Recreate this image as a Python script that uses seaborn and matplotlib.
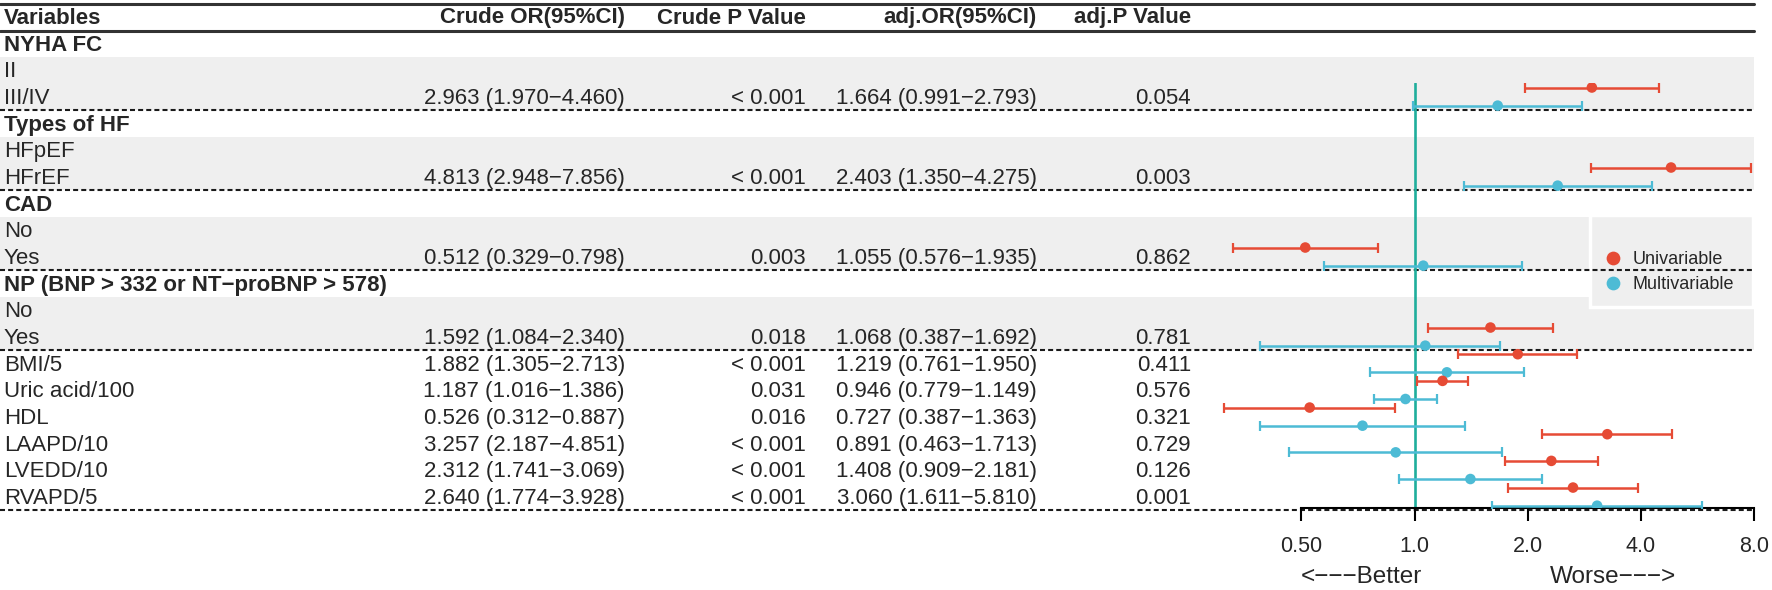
import numpy as np
import pandas as pd
import matplotlib
matplotlib.use("Agg")
import matplotlib.pyplot as plt
from matplotlib.patches import Rectangle
from matplotlib.ticker import NullLocator
import seaborn as sns

nan = np.nan

# table rows, top to bottom
variables = ["NYHA FC", "II", "III/IV",
             "Types of HF", "HFpEF", "HFrEF",
             "CAD", "No", "Yes",
             "NP (BNP > 332 or NT\u2212proBNP > 578)", "No", "Yes",
             "BMI/5", "Uric acid/100", "HDL", "LAAPD/10", "LVEDD/10", "RVAPD/5"]
group_headers = [0, 3, 6, 9]

crude_or = [nan, nan, 2.963, nan, nan, 4.813, nan, nan, 0.512, nan, nan, 1.592,
            1.882, 1.187, 0.526, 3.257, 2.312, 2.640]
crude_lo = [nan, nan, 1.970, nan, nan, 2.948, nan, nan, 0.329, nan, nan, 1.084,
            1.305, 1.016, 0.312, 2.187, 1.741, 1.774]
crude_hi = [nan, nan, 4.460, nan, nan, 7.856, nan, nan, 0.798, nan, nan, 2.340,
            2.713, 1.386, 0.887, 4.851, 3.069, 3.928]
crude_p = ["", "", "< 0.001", "", "", "< 0.001", "", "", "0.003", "", "", "0.018",
           "< 0.001", "0.031", "0.016", "< 0.001", "< 0.001", "< 0.001"]

adj_or = [nan, nan, 1.664, nan, nan, 2.403, nan, nan, 1.055, nan, nan, 1.068,
          1.219, 0.946, 0.727, 0.891, 1.408, 3.060]
adj_lo = [nan, nan, 0.991, nan, nan, 1.350, nan, nan, 0.576, nan, nan, 0.387,
          0.761, 0.779, 0.387, 0.463, 0.909, 1.611]
adj_hi = [nan, nan, 2.793, nan, nan, 4.275, nan, nan, 1.935, nan, nan, 1.692,
          1.950, 1.149, 1.363, 1.713, 2.181, 5.810]
adj_p = ["", "", "0.054", "", "", "0.003", "", "", "0.862", "", "", "0.781",
         "0.411", "0.576", "0.321", "0.729", "0.126", "0.001"]

headers = ["Variables", "Crude OR(95%CI)", "Crude P Value", "adj.OR(95%CI)", "adj.P Value"]
x_ticks = [0.5, 1, 2, 4, 8]
x_tick_labels = ["0.50", "1.0", "2.0", "4.0", "8.0"]
arrow_labels = ["<\u2212\u2212\u2212Better", "Worse\u2212\u2212\u2212>"]

RED = "#E64B35"
BLUE = "#4DBBD5"
GREEN = "#1FAE9C"
BAND = "#EFEFEF"


def fmt_or(est, lo, hi):
    if np.isnan(est):
        return ""
    return f"{est:.3f} ({lo:.3f}\u2212{hi:.3f})"


sns.set_theme(style="white")
plt.rcParams["font.family"] = ["Liberation Sans", "DejaVu Sans"]

W, H = 1772, 590
ROW_H, Y0 = 26.67, 43.5
RIGHT = 1754


def prow(py):
    # pixel y -> row units
    return (py - Y0) / ROW_H


fig = plt.figure(figsize=(W / 100, H / 100), dpi=100)

# table layer
ax_tab = fig.add_axes([0, 0, 1, 1])
ax_tab.set_xlim(0, W)
ax_tab.set_ylim(prow(H), prow(0))
ax_tab.axis("off")

bands = [(1, 2), (4, 5), (7, 8), (10, 11)]
for a, b in bands:
    ax_tab.axhspan(b + 0.5, a - 0.5, xmin=0, xmax=RIGHT / W, color=BAND, lw=0, zorder=0)

# legend background
ax_tab.add_patch(Rectangle((1590, prow(215)), 163, prow(307) - prow(215),
                           facecolor=BAND, edgecolor="white", lw=2.5, zorder=1))

ax_tab.plot([0, RIGHT], [prow(4)] * 2, color="#333333", lw=2.2, zorder=2)
ax_tab.plot([0, RIGHT], [prow(31)] * 2, color="#333333", lw=2.2, zorder=2)
for r in [2, 5, 8, 11, 17]:
    ax_tab.plot([0, RIGHT], [r + 0.5] * 2, color="#1a1a1a", lw=1.5,
                dashes=(2.4, 1.5), zorder=2)

FS = 16
DY = 0.06
col_x = [4, 625, 806, 1037, 1191]
col_ha = ["left", "right", "right", "right", "right"]
yh = prow(18)
for txt, x, ha in zip(headers, col_x, col_ha):
    ax_tab.text(x, yh, txt, ha=ha, va="center", fontsize=FS, fontweight="bold")

for i, name in enumerate(variables):
    bold = "bold" if i in group_headers else "normal"
    y = i + DY
    ax_tab.text(col_x[0], y, name, ha="left", va="center", fontsize=FS, fontweight=bold)
    ax_tab.text(col_x[1], y, fmt_or(crude_or[i], crude_lo[i], crude_hi[i]),
                ha="right", va="center", fontsize=FS)
    ax_tab.text(col_x[2], y, crude_p[i], ha="right", va="center", fontsize=FS)
    ax_tab.text(col_x[3], y, fmt_or(adj_or[i], adj_lo[i], adj_hi[i]),
                ha="right", va="center", fontsize=FS)
    ax_tab.text(col_x[4], y, adj_p[i], ha="right", va="center", fontsize=FS)

ax_tab.text(1422, prow(577), arrow_labels[0], ha="right", va="center", fontsize=17.5)
ax_tab.text(1550, prow(577), arrow_labels[1], ha="left", va="center", fontsize=17.5)

# forest layer
recs = []
for i in range(len(variables)):
    if not np.isnan(crude_or[i]):
        recs.append(dict(model="Univariable", est=crude_or[i], lo=crude_lo[i],
                         hi=crude_hi[i], ypos=i - 0.35))
        recs.append(dict(model="Multivariable", est=adj_or[i], lo=adj_lo[i],
                         hi=adj_hi[i], ypos=i + 0.33))
df = pd.DataFrame(recs)
palette = {"Univariable": RED, "Multivariable": BLUE}

ax_for = fig.add_axes([1218 / W, 1 - 508 / H, (RIGHT - 1218) / W, (508 - 83) / H])
ax_for.patch.set_visible(False)
ax_for.set_xscale("log", base=2)

for model, sub in df.groupby("model"):
    ax_for.errorbar(sub["est"], sub["ypos"],
                    xerr=[sub["est"] - sub["lo"], sub["hi"] - sub["est"]],
                    fmt="none", ecolor=palette[model], elinewidth=1.8,
                    capsize=3.6, capthick=1.6, zorder=3)
sns.scatterplot(data=df, x="est", y="ypos", hue="model", palette=palette,
                hue_order=["Univariable", "Multivariable"],
                s=58, edgecolor="none", ax=ax_for, zorder=4)
ax_for.axvline(1.0, color=GREEN, lw=1.9, zorder=2)

ax_for.set_xlim(0.3, 8)
ax_for.set_ylim(prow(508), prow(83))
ax_for.set_xlabel("")
ax_for.set_ylabel("")
ax_for.set_yticks([])
ax_for.set_xticks(x_ticks)
ax_for.set_xticklabels(x_tick_labels)
ax_for.xaxis.set_minor_locator(NullLocator())
for side in ["top", "left", "right"]:
    ax_for.spines[side].set_visible(False)
ax_for.spines["bottom"].set_bounds(0.5, 8)
ax_for.spines["bottom"].set_linewidth(1.5)
ax_for.spines["bottom"].set_color("black")
ax_for.tick_params(axis="x", bottom=True, direction="out", length=9.5, width=1.5,
                   pad=11, labelsize=15.5, color="black")

sns.move_legend(ax_for, loc="center left",
                bbox_to_anchor=(1604 / W, 1 - 272 / H), bbox_transform=fig.transFigure,
                frameon=False, title=None, fontsize=13, handlelength=1.0,
                handletextpad=0.6, labelspacing=0.45, borderpad=0,
                borderaxespad=0, markerscale=1.3)

fig.savefig("out.png", dpi=100)
